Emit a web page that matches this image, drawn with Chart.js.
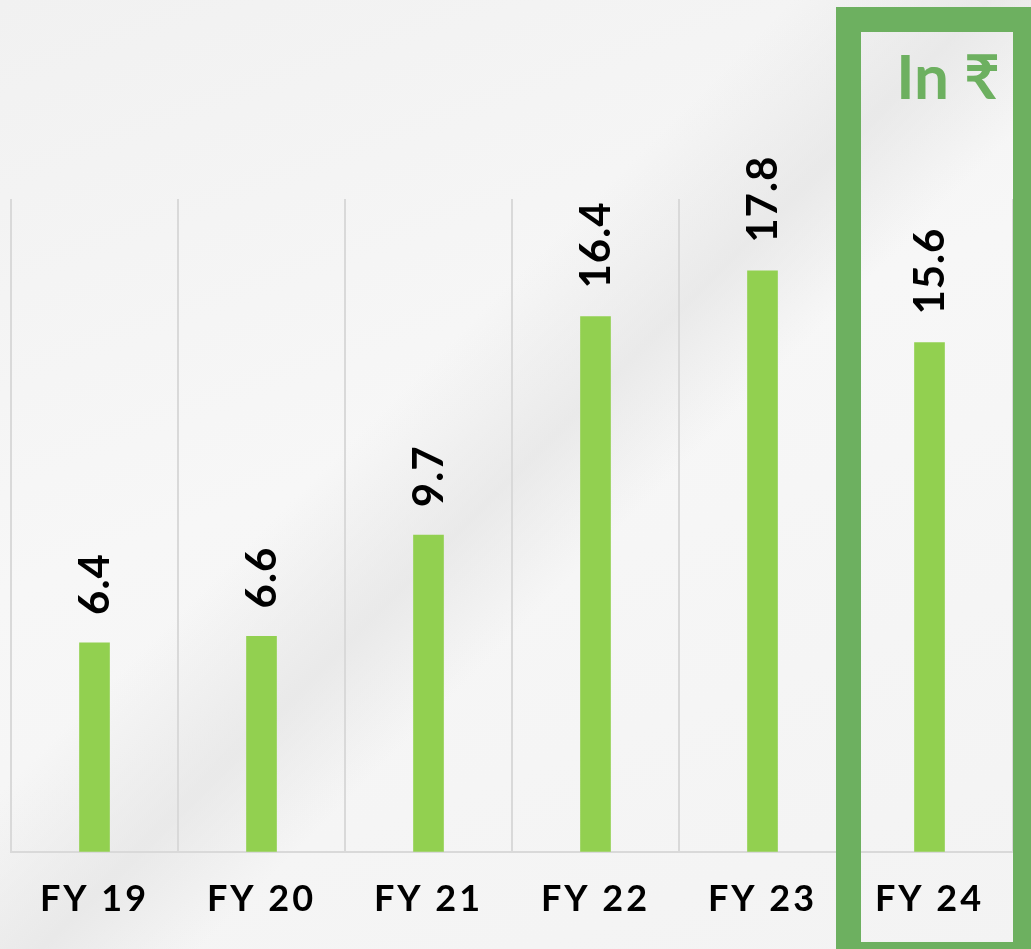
<!DOCTYPE html>
<html lang="en">
<head>
  <meta charset="UTF-8"/>
  <title>FY bars</title>
  <style>
    html, body { margin: 0; padding: 0; overflow: hidden; }
    body {
      width: 1031px; height: 949px; position: relative;
      background:
        linear-gradient(135deg, rgba(255,255,255,0) 40%, rgba(225,225,225,0.6) 50%, rgba(255,255,255,0) 58%),
        linear-gradient(160deg, #f1f1f1 0%, #f7f7f7 45%, #f3f3f3 100%);
    }
    #wrap { position: absolute; left: 0; top: 0; width: 1031px; height: 949px; }
    #box {
      position: absolute; left: 836px; top: 7px; width: 202px; height: 960px;
      box-sizing: border-box; border: 25px solid #6db060; pointer-events: none;
    }
    #unit {
      position: absolute; right: 31px; top: 44px;
      font-family: Lato, sans-serif; font-weight: bold; font-size: 62px;
      color: #6db060; line-height: 1;
    }
  </style>
</head>
<body>
  <div id="wrap"><canvas id="chart"></canvas></div>
  <div id="box"></div>
  <div id="unit">In ₹</div>

  <script src="https://cdn.jsdelivr.net/npm/chart.js"></script>
  <script>
  const categories = ['FY 19', 'FY 20', 'FY 21', 'FY 22', 'FY 23', 'FY 24'];
  const values = [6.4, 6.6, 9.7, 16.4, 17.8, 15.6];
  const valueLabels = ['6.4', '6.6', '9.7', '16.4', '17.8', '15.6'];

  // wider letter spacing for the category labels
  const spacing = {
    id: 'spacing',
    beforeDraw(chart) { chart.ctx.letterSpacing = '3px'; }
  };

  // rotated value labels above each bar
  const barLabels = {
    id: 'barLabels',
    afterDatasetsDraw(chart) {
      const ctx = chart.ctx;
      const meta = chart.getDatasetMeta(0);
      ctx.save();
      ctx.letterSpacing = '1px';
      ctx.fillStyle = '#000';
      ctx.font = 'bold 42px Lato, sans-serif';
      ctx.textAlign = 'left';
      ctx.textBaseline = 'middle';
      meta.data.forEach((bar, i) => {
        ctx.save();
        ctx.translate(bar.x + 1, bar.y - 28);
        ctx.rotate(-Math.PI / 2);
        ctx.fillText(valueLabels[i], 0, 0);
        ctx.restore();
      });
      ctx.restore();
    }
  };

  const canvas = document.getElementById('chart');
  canvas.width = 1031; canvas.height = 949;

  new Chart(canvas, {
    type: 'bar',
    data: {
      labels: categories,
      datasets: [{
        data: values,
        backgroundColor: '#92d050',
        barThickness: 30
      }]
    },
    options: {
      responsive: false,
      animation: false,
      layout: { padding: { left: 11, right: 18, top: 199, bottom: 2 } },
      plugins: { legend: { display: false }, tooltip: { enabled: false } },
      scales: {
        x: {
          grid: { color: '#d9d9d9', lineWidth: 2, drawTicks: false },
          border: { color: '#d9d9d9', width: 2 },
          ticks: {
            color: '#000',
            padding: 26,
            font: { family: 'Lato, sans-serif', weight: 'bold', size: 36 }
          }
        },
        y: {
          display: false,
          min: 0,
          max: 20
        }
      }
    },
    plugins: [spacing, barLabels]
  });
  </script>
</body>
</html>
